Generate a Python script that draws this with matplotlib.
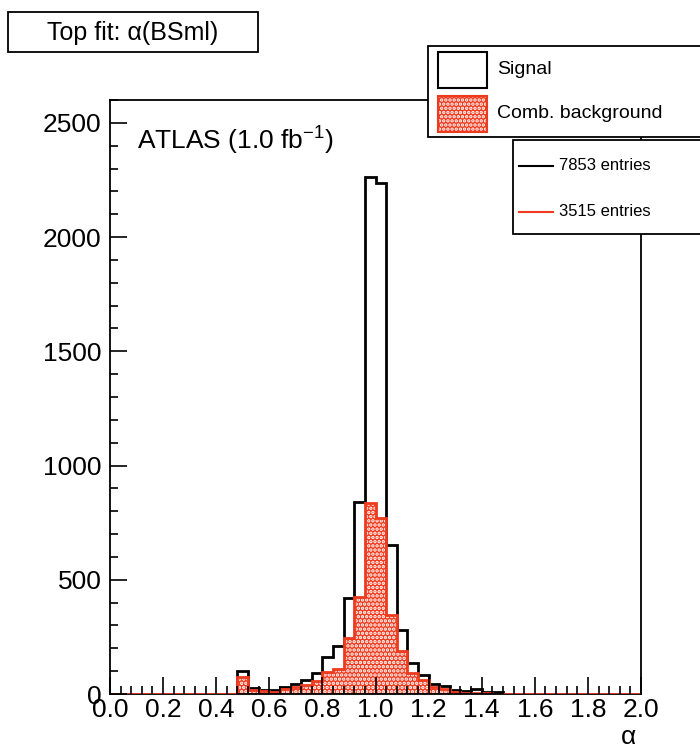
import numpy as np
import matplotlib
matplotlib.use("Agg")
import matplotlib.pyplot as plt
from matplotlib.patches import Rectangle
from matplotlib.lines import Line2D
from matplotlib.ticker import MultipleLocator

plt.rcParams['font.family'] = ['Liberation Sans', 'DejaVu Sans']
plt.rcParams['mathtext.fontset'] = 'custom'
plt.rcParams['mathtext.rm'] = 'Liberation Sans'
plt.rcParams['mathtext.it'] = 'Liberation Sans:italic'
plt.rcParams['hatch.linewidth'] = 1.7

# -----------------------------------------
# Data (bins of 0.04 in alpha, 0 to 2)
# -----------------------------------------
edges = np.round(np.arange(0, 2.0001, 0.04), 2)

signal = [0] * 12 + [100, 28, 18, 16, 30, 44, 62, 92, 162, 208,
                     420, 842, 2265, 2235, 652, 280, 135, 85, 45, 33,
                     18, 14, 20, 7, 7] + [0] * 13
background = [0] * 12 + [75, 18, 12, 9, 20, 30, 40, 56, 98, 108,
                         245, 425, 836, 772, 344, 188, 91, 61, 29, 20,
                         10, 5, 5, 3, 2] + [0] * 13

labels = ["Signal", "Comb. background"]
entries = ["7853 entries", "3515 entries"]
title = "Top fit: α(BSml)"

red = '#ee3a1e'

# -----------------------------------------
# Figure
# -----------------------------------------
W, H = 700, 750
fig = plt.figure(figsize=(7, 7.5), dpi=100)


def fx(px):
    return px / W


def fy(py):
    return 1 - py / H


ax = fig.add_axes([fx(110), fy(694), fx(641) - fx(110), fy(100) - fy(694)])

sig = np.array(signal)
nz = np.nonzero(sig)[0]
ax.stairs(sig[nz[0]:nz[-1] + 1], edges[nz[0]:nz[-1] + 2], color='black', lw=2, zorder=2)
ax.stairs(background, edges, fill=True, facecolor=red, edgecolor='white',
          hatch='....', lw=0, zorder=3)
ax.stairs(background, edges, color=red, lw=2, zorder=4)
ax.hlines(0, edges[nz[0]], edges[nz[-1] + 1], color='black', lw=2, zorder=5)

ax.set_xlim(0, 2.0)
ax.set_ylim(0, 2600)
ax.xaxis.set_major_locator(MultipleLocator(0.2))
ax.xaxis.set_minor_locator(MultipleLocator(0.04))
ax.yaxis.set_major_locator(MultipleLocator(500))
ax.yaxis.set_minor_locator(MultipleLocator(100))
ax.xaxis.set_major_formatter(lambda v, p: f"{v:.1f}")
ax.tick_params(which='both', direction='in', top=False, right=False, width=1.2)
ax.tick_params(which='major', length=12)
ax.tick_params(which='minor', length=6)
ax.tick_params(axis='x', labelsize=19, pad=3)
ax.tick_params(axis='y', labelsize=19, pad=6)
ax.xaxis.set_zorder(6)
ax.yaxis.set_zorder(6)
for s in ax.spines.values():
    s.set_linewidth(1.3)

fig.text(fx(137), fy(141), r"ATLAS (1.0 fb$^{\mathrm{-1}}$)", fontsize=19,
         va='center', ha='left')
fig.text(fx(628), fy(737), "α", fontsize=19, ha='center', va='center')

# title box
fig.patches.append(Rectangle((fx(8), fy(52)), fx(250), 40 / H, transform=fig.transFigure,
                             facecolor='white', edgecolor='black', lw=1.3))
fig.text(fx(133), fy(33), title, fontsize=18, ha='center', va='center')

# legend 1
fig.patches.append(Rectangle((fx(428), fy(137)), fx(300), 91 / H, transform=fig.transFigure,
                             facecolor='white', edgecolor='black', lw=1.3, zorder=10))
fig.patches.append(Rectangle((fx(438), fy(88)), fx(49), 36 / H, transform=fig.transFigure,
                             facecolor='white', edgecolor='black', lw=1.5, zorder=11))
fig.patches.append(Rectangle((fx(438), fy(132)), fx(49), 36 / H, transform=fig.transFigure,
                             facecolor=red, edgecolor='white', hatch='....', lw=0, zorder=11))
fig.patches.append(Rectangle((fx(438), fy(132)), fx(49), 36 / H, transform=fig.transFigure,
                             facecolor='none', edgecolor=red, lw=1.5, zorder=12))
fig.text(fx(497), fy(69), labels[0], fontsize=14, va='center', zorder=13)
fig.text(fx(497), fy(113), labels[1], fontsize=14, va='center', zorder=13)

# legend 2
fig.patches.append(Rectangle((fx(513), fy(234)), fx(300), 94 / H, transform=fig.transFigure,
                             facecolor='white', edgecolor='black', lw=1.3, zorder=10))
for yy, col, txt in [(166, 'black', entries[0]), (212, red, entries[1])]:
    fig.lines.append(Line2D([fx(519), fx(553)], [fy(yy), fy(yy)], transform=fig.transFigure,
                            color=col, lw=1.5, zorder=11))
    fig.text(fx(559), fy(yy), txt, fontsize=12, va='center', zorder=13)

fig.savefig("out.png", dpi=100)
